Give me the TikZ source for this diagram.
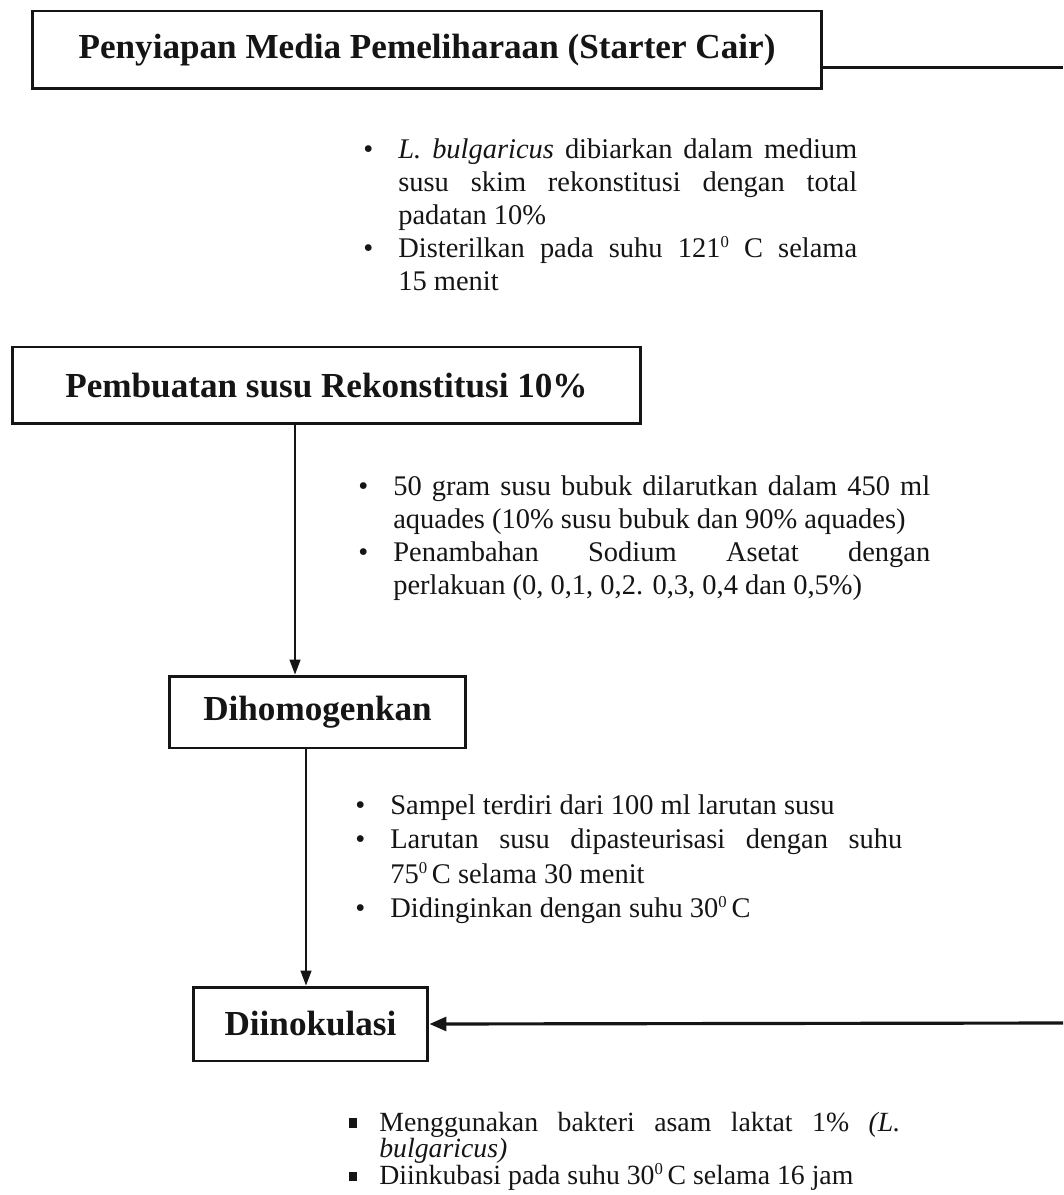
\documentclass[tikz,border=0pt]{standalone}
\usepackage{fontspec}
\setmainfont{Liberation Serif}
\usetikzlibrary{positioning,arrows.meta,calc}
\definecolor{scanink}{HTML}{151515}
\newlength{\bulind}
\setlength{\bulind}{0.7cm}
\newcommand{\bitem}{\par\noindent\hangindent=\bulind\hangafter=1\hbox to \bulind{\hss\textbullet\hspace{0.5cm}}}
\newcommand{\sitem}{\par\noindent\hangindent=\bulind\hangafter=1\hbox to \bulind{\hss\rule[0.12em]{0.3em}{0.34em}\hspace{0.45cm}}}
\newcommand{\dg}{\raisebox{0.75ex}{\fontsize{9.5}{10}\selectfont 0}}
\hyphenpenalty=10000
\exhyphenpenalty=10000
\tolerance=9999

\begin{document}
\begin{tikzpicture}[x=0.02cm, y=-0.02cm,
        stepbox/.style={draw=scanink, line width=1.7pt, inner sep=0pt, text=scanink, font=\fontsize{20}{24}\selectfont\bfseries},
        note/.style={anchor=north west, inner sep=0pt, align=justify, text=scanink, font=\fontsize{16.2}{18.8}\selectfont},
        feed/.style={line width=1.7pt, draw=scanink},
        arr/.style={-{Triangle[length=3mm, width=2.2mm]}, line width=0.8pt, draw=scanink},
        barr/.style={-{Triangle[length=3.4mm, width=2.8mm]}, line width=1.8pt, draw=scanink}]
      \useasboundingbox (0,0) rectangle (1063,1195);
      % process steps
      \node[stepbox, minimum width=15.8cm, minimum height=1.56cm] (prep) at (427,50) {Penyiapan Media Pemeliharaan (Starter Cair)};
      \node[stepbox, minimum width=12.58cm, minimum height=1.54cm] (rekon) at (326.5,385.5) {Pembuatan susu Rekonstitusi 10\%};
      \node[stepbox, minimum width=5.94cm, minimum height=1.44cm] (homog) at (317.5,712) {Dihomogenkan};
      \node[stepbox, minimum width=4.7cm, minimum height=1.48cm] (inok) at (310.5,1024) {Diinokulasi};
      % notes
      \node[note, text width=9.88cm] (prepnote) at (363,125) {\bitem \textit{L. bulgaricus} dibiarkan dalam medium susu skim rekonstitusi dengan total padatan 10\% \bitem Disterilkan pada suhu 121\dg{} C selama\linebreak 15 menit\par};
      \node[note, text width=11.44cm] (rekonnote) at (358,462) {\bitem 50 gram susu bubuk dilarutkan dalam 450 ml aquades (10\% susu bubuk dan 90\% aquades) \bitem Penambahan Sodium Asetat dengan\linebreak perlakuan (0, 0,1, 0,2. 0,3, 0,4 dan 0,5\%)\par};
      \node[note, text width=10.94cm, font=\fontsize{16.2}{19.5}\selectfont] (homognote) at (355,780) {\bitem Sampel terdiri dari 100 ml larutan susu \bitem Larutan susu dipasteurisasi dengan suhu\linebreak 75\dg\,C selama 30 menit \bitem Didinginkan dengan suhu 30\dg\,C\par};
      \node[note, text width=11.12cm, font=\fontsize{15.8}{15.2}\selectfont] (inoknote) at (344,1104) {\sitem Menggunakan bakteri asam laktat 1\% \textit{(L. bulgaricus)} \sitem Diinkubasi pada suhu 30\dg\,C selama 16 jam\par};
      % connectors
      \coordinate (edgetop) at (1063,68);
      \coordinate (edgebot) at (1063,1023);
      \draw[feed] (prep.east |- edgetop) -- (edgetop);
      \draw[arr] ([xshift=-0.45cm]homog.north |- rekon.south) -- ([xshift=-0.45cm]homog.north);
      \draw[arr] ([xshift=-0.09cm]inok.north |- homog.south) -- ([xshift=-0.09cm]inok.north);
      \draw[barr] (edgebot) -- (inok.east);
    \end{tikzpicture}
\end{document}
